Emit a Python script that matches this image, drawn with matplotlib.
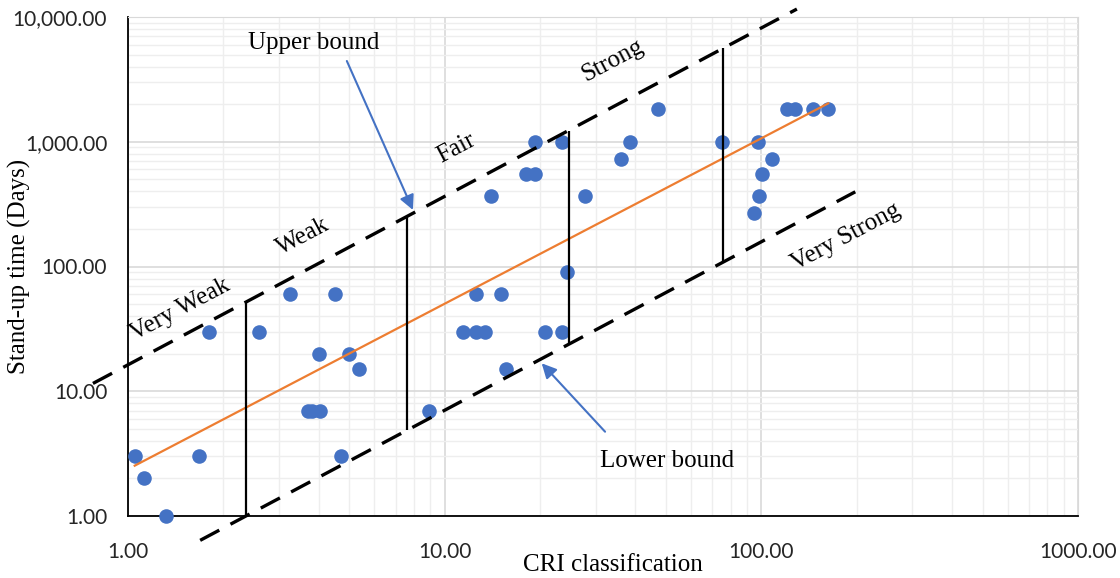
import matplotlib.pyplot as plt
import numpy as np
from matplotlib.ticker import FixedLocator, FuncFormatter, LogLocator, NullFormatter

# CRI vs stand-up time observations
cri = [1.05, 1.12, 1.32, 1.67, 1.8, 2.6, 3.25, 4.5, 4.0, 5.0, 5.35, 3.7, 3.82, 4.05, 4.7,
       8.9, 11.45, 12.55, 13.4, 12.55, 15.1, 15.6, 20.8, 23.5, 24.3, 14.05, 18.05, 19.3, 19.3,
       23.4, 27.8, 36, 38.5, 47.1, 75.3, 97.8, 108.3, 100.7, 98.5, 94.8, 120.2, 127.7, 145.2, 162.6]
days = [3, 2, 1, 3, 30, 30, 60, 60, 20, 20, 15, 7, 7, 7, 3,
        7, 30, 30, 30, 60, 60, 15, 30, 30, 90, 365, 550, 550, 1000,
        1000, 365, 730, 1000, 1825, 1000, 1000, 730, 550, 365, 270, 1825, 1825, 1825, 1825]

# bound lines (end points) and class dividers
upper_x = [0.775, 129.5]
upper_y = [11.55, 11580]
lower_x = [1.69, 198]
lower_y = [0.638, 397]
div_x = [2.35, 7.58, 24.7, 75.8]
div_lo = [1.0, 4.88, 24.5, 107]
div_hi = [51, 255, 1230, 5610]

classes = ["Very Weak", "Weak", "Fair", "Strong", "Very Strong"]
class_x = [1.46, 3.57, 10.86, 34.0, 185]
class_y = [44.8, 175, 890, 4440, 172]

xticks = [1, 10, 100, 1000]
yticks = [1, 10, 100, 1000, 10000]

serif = "Liberation Serif"
blue = "#4472C4"

fig = plt.figure(figsize=(11.2, 5.78), dpi=100)
ax = fig.add_axes([128 / 1120, 1 - 516 / 578, 950 / 1120, 499 / 578])
ax.set_xscale("log")
ax.set_yscale("log")
ax.set_xlim(1, 1000)
ax.set_ylim(1, 10000)

ax.scatter(cri, days, s=110, color=blue, zorder=3, clip_on=False, linewidths=0)

# power trendline, least squares in log-log space
b, log_a = np.polyfit(np.log10(cri), np.log10(days), 1)
tx = np.array([min(cri), max(cri)])
ax.plot(tx, 10 ** log_a * tx ** b, color="#ED7D31", lw=1.6, zorder=4)

dash = (0, (6.5, 3.8))
ax.plot(upper_x, upper_y, color="black", lw=2.4, ls=dash, clip_on=False, zorder=5)
ax.plot(lower_x, lower_y, color="black", lw=2.4, ls=dash, clip_on=False, zorder=5)
ax.vlines(div_x, div_lo, div_hi, color="black", lw=1.6, zorder=5)

for name, x, y in zip(classes, class_x, class_y):
    ax.text(x, y, name, rotation=28, ha="center", va="center", family=serif,
            fontsize=18, zorder=6, clip_on=False)

arrow = dict(arrowstyle="-|>", color=blue, lw=1.5, mutation_scale=22, shrinkA=0, shrinkB=0)
ax.annotate("", xy=(7.94, 284), xytext=(4.91, 4440), arrowprops=arrow, zorder=6)
ax.text(3.87, 6170, "Upper bound", ha="center", va="center", family=serif, fontsize=18)
ax.annotate("", xy=(20.25, 16.75), xytext=(32.1, 4.74), arrowprops=arrow, zorder=6)
ax.text(50.3, 2.76, "Lower bound", ha="center", va="center", family=serif, fontsize=18)

# axes, ticks and grid
ax.xaxis.set_major_locator(FixedLocator(xticks))
ax.yaxis.set_major_locator(FixedLocator(yticks))
ax.xaxis.set_minor_locator(LogLocator(base=10, subs=np.arange(2, 10)))
ax.yaxis.set_minor_locator(LogLocator(base=10, subs=np.arange(2, 10)))
ax.xaxis.set_minor_formatter(NullFormatter())
ax.yaxis.set_minor_formatter(NullFormatter())
ax.xaxis.set_major_formatter(FuncFormatter(lambda v, p: f"{v:.2f}"))
ax.yaxis.set_major_formatter(FuncFormatter(lambda v, p: f"{v:,.2f}"))
ax.tick_params(which="both", length=0)
ax.tick_params(axis="x", pad=19)
ax.tick_params(axis="y", pad=15)
for lab in ax.get_xticklabels() + ax.get_yticklabels():
    lab.set_family("Lato")
    lab.set_fontsize(15)
    lab.set_color("#262626")

ax.grid(which="major", color="#d9d9d9", lw=1.2, zorder=0)
ax.grid(which="minor", color="#eeeeee", lw=1.0, zorder=0)
ax.set_axisbelow(True)
for side in ["top", "right"]:
    ax.spines[side].set_color("#d9d9d9")
for side in ["left", "bottom"]:
    ax.spines[side].set_color("black")
    ax.spines[side].set_linewidth(1.3)

ax.set_xlabel("CRI classification", family=serif, fontsize=18)
ax.set_ylabel("Stand-up time (Days)", family=serif, fontsize=18)
ax.xaxis.set_label_coords(0.51, -0.076)
ax.yaxis.set_label_coords(-0.102, 0.5)

fig.savefig("out.png", dpi=100)
